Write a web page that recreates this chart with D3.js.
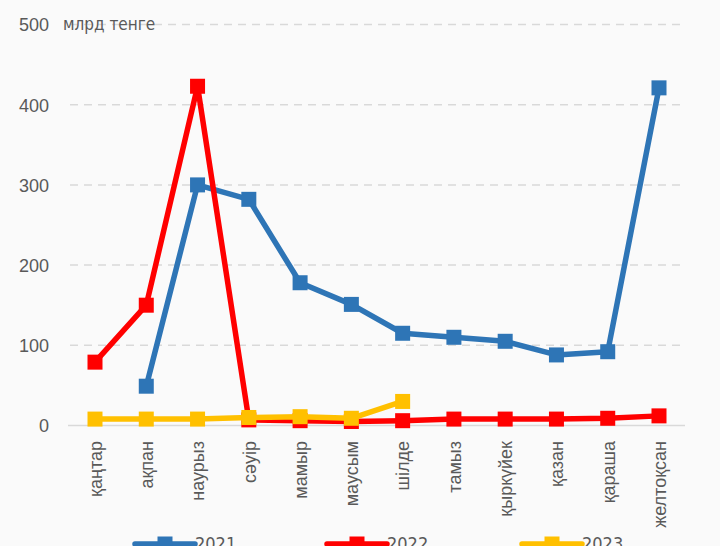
<!DOCTYPE html>
<html>
<head>
<meta charset="utf-8">
<script src="https://cdn.jsdelivr.net/npm/d3@7"></script>
<style>
  body { margin: 0; background: #fafafa; }
  svg { display: block; font-family: "Liberation Sans Narrow", "DejaVu Sans Condensed", Roboto, sans-serif; }
  .tick text { fill: #595959; }
</style>
</head>
<body>
<svg id="chart" width="720" height="546"></svg>
<script>
const months = ["қаңтар", "ақпан", "наурыз", "сәуір", "мамыр", "маусым", "шілде", "тамыз", "қыркүйек", "қазан", "қараша", "желтоқсан"];
const years = ["2021", "2022", "2023"];
const v2021 = [null, 49, 300, 282, 178, 151, 115, 110, 105, 88, 92, 421];
const v2022 = [79, 150, 423, 7, 6, 5, 6, 8, 8, 8, 9, 12];
const v2023 = [8, 8, 8, 10, 11, 9, 30];
const yTicks = [0, 100, 200, 300, 400, 500];
const colors = ["#2e75b6", "#ff0000", "#ffc000"];

const svg = d3.select("#chart");
const series = [v2021, v2022, v2023];

const x = d3.scalePoint().domain(months).range([95, 659]);
const y = d3.scaleLinear().domain([0, 500]).range([425.5, 24.5]);

// сетка
svg.append("g")
  .selectAll("line")
  .data(yTicks.filter((d) => d > 0))
  .enter()
  .append("line")
  .attr("x1", 70).attr("x2", 682)
  .attr("y1", (d) => y(d)).attr("y2", (d) => y(d))
  .attr("stroke", "#d9d9d9")
  .attr("stroke-width", 1.5)
  .attr("stroke-dasharray", "8,6");

svg.append("line")
  .attr("x1", 68).attr("x2", 685)
  .attr("y1", y(0)).attr("y2", y(0))
  .attr("stroke", "#d9d9d9")
  .attr("stroke-width", 1.5);

// ось Y
const yAxis = svg.append("g")
  .attr("transform", "translate(49,0)")
  .call(d3.axisLeft(y).tickValues(yTicks).tickSize(0).tickPadding(0));
yAxis.select(".domain").remove();
yAxis.selectAll("text").attr("font-size", 18).attr("dy", "0.35em");

svg.append("text")
  .attr("x", 63).attr("y", y(500))
  .attr("dy", "0.35em")
  .attr("font-size", 17)
  .attr("fill", "#595959")
  .text("млрд тенге");

// ось X
const xAxis = svg.append("g")
  .attr("transform", "translate(0," + 441 + ")")
  .call(d3.axisBottom(x).tickSize(0).tickPadding(0));
xAxis.select(".domain").remove();
xAxis.selectAll("text")
  .attr("font-size", 18)
  .attr("transform", "rotate(-90)")
  .attr("x", 0).attr("y", 0)
  .attr("dy", "0.35em")
  .attr("text-anchor", "end");

// линии
const line = d3.line()
  .defined((d) => d !== null)
  .x((d, i) => x(months[i]))
  .y((d) => y(d));

series.forEach((vals, s) => {
  const g = svg.append("g");
  g.append("path")
    .datum(vals)
    .attr("d", line)
    .attr("fill", "none")
    .attr("stroke", colors[s])
    .attr("stroke-width", 5.5)
    .attr("stroke-linejoin", "round");
  g.selectAll("rect")
    .data(vals.map((v, i) => ({ v, i })).filter((d) => d.v !== null))
    .enter()
    .append("rect")
    .attr("x", (d) => x(months[d.i]) - 7.5)
    .attr("y", (d) => y(d.v) - 7.5)
    .attr("width", 15).attr("height", 15)
    .attr("fill", colors[s]);
});

// легенда
const legendX = [135, 327, 522];
const legend = svg.append("g")
  .selectAll("g")
  .data(years)
  .enter()
  .append("g")
  .attr("transform", (d, i) => "translate(" + legendX[i] + ",544)");
legend.append("line")
  .attr("x1", 0).attr("x2", 60)
  .attr("stroke", (d, i) => colors[i])
  .attr("stroke-width", 5.5)
  .attr("stroke-linecap", "round");
legend.append("rect")
  .attr("x", 22.5).attr("y", -7.5)
  .attr("width", 15).attr("height", 15)
  .attr("fill", (d, i) => colors[i]);
legend.append("text")
  .attr("x", 60).attr("y", 0)
  .attr("dy", "0.35em")
  .attr("font-size", 18)
  .attr("fill", "#595959")
  .text((d) => d);
</script>
</body>
</html>
